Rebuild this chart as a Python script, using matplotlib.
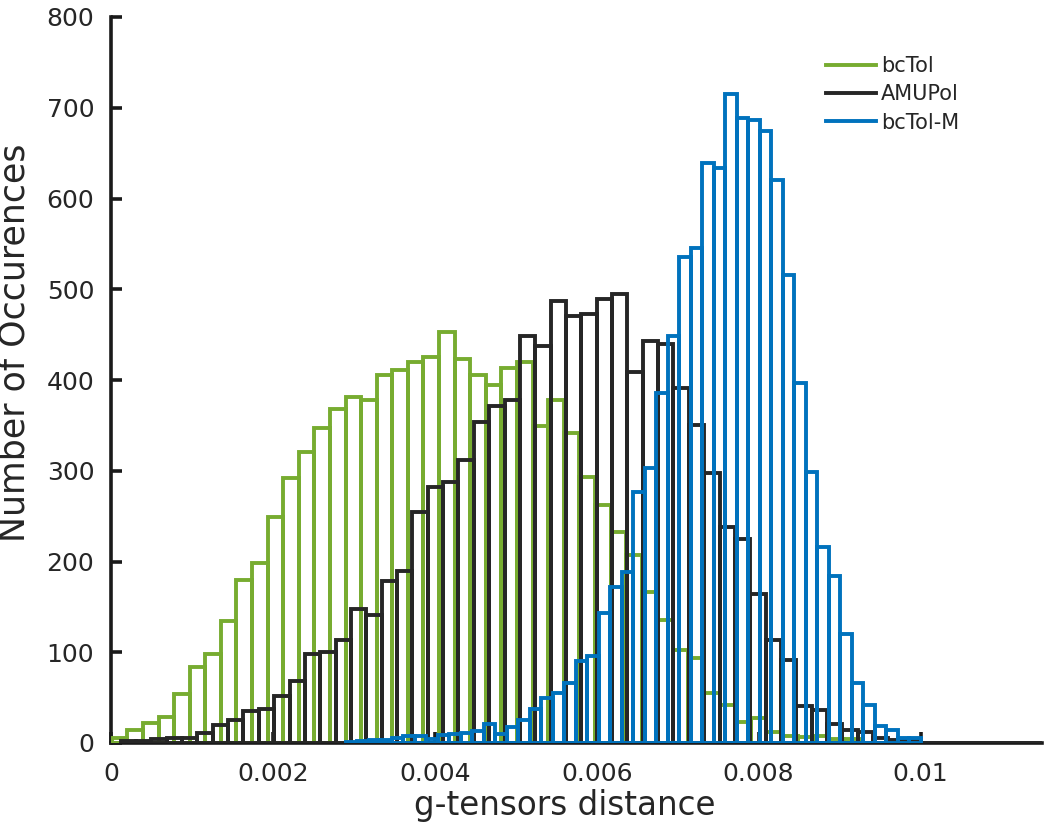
import numpy as np
import matplotlib
matplotlib.use("Agg")
import matplotlib.pyplot as plt
from matplotlib.lines import Line2D

# ---- data -------------------------------------------------------------
series_names = ["bcTol", "AMUPol", "bcTol-M"]

# bin range (first edge, last edge) and counts per bin
bctol_range = (0.00001, 0.00925)
bctol_counts = [6, 14, 22, 29, 54, 84, 98, 134, 180, 198,
                249, 292, 321, 347, 368, 381, 378, 405, 411, 420,
                425, 453, 423, 405, 394, 413, 420, 349, 378, 342,
                293, 262, 233, 207, 166, 136, 102, 94, 55, 42,
                23, 27, 12, 8, 7, 8, 4, 4]

amupol_range = (0.000119, 0.0115)
amupol_counts = [2, 2, 4, 5, 5, 11, 20, 25, 35, 38,
                 52, 68, 98, 100, 113, 148, 141, 178, 190, 255,
                 282, 288, 312, 354, 371, 378, 448, 437, 487, 471,
                 473, 489, 495, 409, 443, 440, 391, 350, 297, 238,
                 225, 164, 113, 92, 41, 36, 21, 14, 12, 6,
                 3, 2, 0, 0, 0, 0, 0, 0, 0, 0]

bctolm_range = (0.0029, 0.01)
bctolm_counts = [1, 2, 3, 3, 6, 8, 8, 4, 9, 10,
                 11, 13, 21, 10, 18, 25, 37, 50, 55, 66,
                 90, 96, 143, 172, 188, 277, 303, 386, 448, 536,
                 545, 639, 634, 715, 689, 686, 674, 620, 516, 397,
                 299, 216, 184, 120, 66, 42, 19, 14, 6, 6]

x_ticks = [0, 0.002, 0.004, 0.006, 0.008, 0.01]
x_tick_labels = ["0", "0.002", "0.004", "0.006", "0.008", "0.01"]
y_ticks = [0, 100, 200, 300, 400, 500, 600, 700, 800]

# ---- style ------------------------------------------------------------
colors = ["#77AC30", "#262626", "#0072BD"]
text_color = "#262626"
lw = 2.8

fig = plt.figure(figsize=(10.5, 8.32), dpi=100)
ax = fig.add_axes([111 / 1050, 89 / 832, 931 / 1050, 726 / 832])

datasets = [(bctol_range, bctol_counts),
            (amupol_range, amupol_counts),
            (bctolm_range, bctolm_counts)]

for i, ((lo, hi), counts) in enumerate(datasets):
    counts = np.asarray(counts, dtype=float)
    edges = np.linspace(lo, hi, len(counts) + 1)
    widths = np.diff(edges)
    bars = ax.bar(edges[:-1], counts, width=widths, align="edge",
                  fill=False, edgecolor=colors[i], linewidth=lw,
                  zorder=2 + i)
    for b in bars:
        b.set_joinstyle("miter")

ax.set_xlim(0, 0.0115)
ax.set_ylim(0, 800)

ax.set_xticks(x_ticks)
ax.set_xticklabels(x_tick_labels)
ax.set_yticks(y_ticks)

for s in ["top", "right"]:
    ax.spines[s].set_visible(False)
for s in ["left", "bottom"]:
    ax.spines[s].set_linewidth(2.6)
    ax.spines[s].set_color("#1a1a1a")
ax.spines["bottom"].set_zorder(1)
ax.spines["left"].set_zorder(1)
ax.set_axisbelow(True)

ax.tick_params(axis="both", direction="in", length=8, width=2.6,
               color="#1a1a1a", labelsize=18, labelcolor=text_color)
ax.tick_params(axis="y", pad=12)
ax.tick_params(axis="x", pad=14)

ax.set_xlabel("g-tensors distance", fontsize=23.5, color=text_color)
ax.xaxis.set_label_coords((565 - 111) / 931, -(789 - 743) / 726)
ax.set_ylabel("Number of Occurences", fontsize=25, color=text_color)
ax.yaxis.set_label_coords((32 - 111) / 931, (743 - 343) / 726)

handles = [Line2D([0], [0], color=c, lw=lw) for c in colors]
leg = ax.legend(handles, series_names, loc="upper left",
                bbox_to_anchor=(826 / 1050, 1 - 56 / 832),
                bbox_transform=fig.transFigure, frameon=False,
                fontsize=15, handlelength=2.4, handletextpad=0.25,
                labelspacing=0.4, borderpad=0, borderaxespad=0)
for t in leg.get_texts():
    t.set_color(text_color)

fig.savefig("out.png", dpi=100)
